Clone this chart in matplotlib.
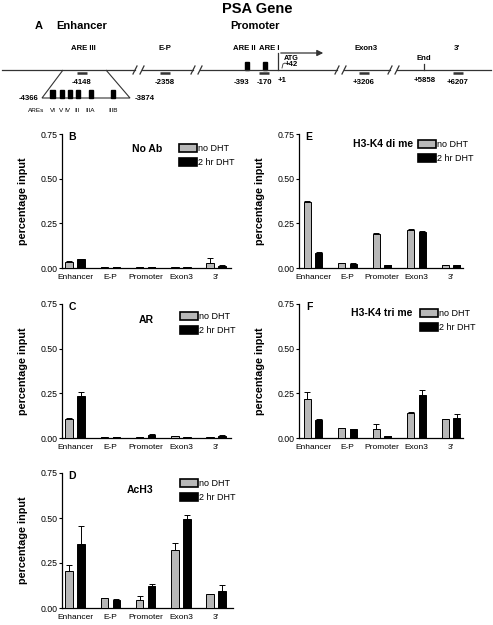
import matplotlib
matplotlib.use("Agg")
import matplotlib.pyplot as plt
from matplotlib.patches import Patch, Polygon, Rectangle
import numpy as np

plt.rcParams['font.family'] = ['Liberation Sans', 'DejaVu Sans']

W, H = 493, 625

# ---------------- data ----------------
regions = ["Enhancer", "E-P", "Promoter", "Exon3", "3'"]
series = ["no DHT", "2 hr DHT"]

noab_ctrl = [0.036, 0.003, 0.003, 0.003, 0.030]
noab_ctrl_err = [0.003, 0.0, 0.0, 0.0, 0.024]
noab_dht = [0.050, 0.003, 0.003, 0.005, 0.013]
noab_dht_err = [0.002, 0.0, 0.0, 0.0, 0.002]

ar_ctrl = [0.104, 0.003, 0.008, 0.009, 0.005]
ar_ctrl_err = [0.008, 0.0, 0.0, 0.0, 0.0]
ar_dht = [0.237, 0.003, 0.015, 0.005, 0.013]
ar_dht_err = [0.020, 0.0, 0.005, 0.0, 0.002]

ach3_ctrl = [0.207, 0.056, 0.046, 0.320, 0.080]
ach3_ctrl_err = [0.030, 0.002, 0.020, 0.040, 0.0]
ach3_dht = [0.357, 0.046, 0.120, 0.494, 0.094]
ach3_dht_err = [0.098, 0.005, 0.015, 0.024, 0.033]

di_ctrl = [0.369, 0.026, 0.193, 0.212, 0.015]
di_ctrl_err = [0.005, 0.0, 0.005, 0.005, 0.0]
di_dht = [0.085, 0.024, 0.017, 0.202, 0.015]
di_dht_err = [0.002, 0.002, 0.0, 0.003, 0.0]

tri_ctrl = [0.220, 0.057, 0.053, 0.141, 0.106]
tri_ctrl_err = [0.036, 0.0, 0.026, 0.003, 0.0]
tri_dht = [0.100, 0.053, 0.013, 0.239, 0.111]
tri_dht_err = [0.009, 0.0, 0.0, 0.030, 0.026]

yticks = [0.0, 0.25, 0.5, 0.75]

GRAY = '#b8b8b8'

fig = plt.figure(figsize=(W / 100, H / 100), dpi=100)

# ---------------- gene diagram (pixel coordinates) ----------------
ax0 = fig.add_axes([0, 0, 1, 1])
ax0.set_xlim(0, W)
ax0.set_ylim(H, 0)
ax0.axis('off')

ax0.text(257, 9, "PSA Gene", ha='center', va='center', fontsize=10.5, fontweight='bold')
ax0.text(39, 26, "A", ha='center', va='center', fontsize=8, fontweight='bold')
ax0.text(82, 26, "Enhancer", ha='center', va='center', fontsize=8, fontweight='bold')
ax0.text(255, 26, "Promoter", ha='center', va='center', fontsize=8, fontweight='bold')

ly = 70
breaks = [135, 193, 337, 390]
segs = [2] + [b for x in breaks for b in (x, x + 7)] + [491]
for a, b in zip(segs[::2], segs[1::2]):
    ax0.plot([a, b], [ly, ly], color='#333333', lw=0.9)
for x in breaks:
    for dx in (0, 7):
        ax0.plot([x + dx - 2, x + dx + 2], [ly + 4, ly - 4], color='#333333', lw=0.9)

sites = ["ARE III", "E-P", "ARE II", "ARE I", "Exon3", "3'"]
site_x = [83, 165, 244, 269, 366, 457]
for s, x in zip(sites, site_x):
    ax0.text(x, 48, s, ha='center', va='center', fontsize=5.6, fontweight='bold')

primer_x = [82, 164.5, 264, 364, 458]
for x in primer_x:
    ax0.plot([x - 5, x + 5], [ly + 2.5, ly + 2.5], color='#333333', lw=1.8, solid_capstyle='butt')

coords = ["-4148", "-2358", "-393", "-170", "+1", "+3206", "+5858", "+6207"]
coord_x = [82, 165, 242, 264, 282, 364, 425, 458]
coord_y = [83, 83, 83, 83, 80, 83, 80, 83]
for c, x, y in zip(coords, coord_x, coord_y):
    ax0.text(x, y, c, ha='center', va='center', fontsize=5.6, fontweight='bold')

for x in (247, 265):
    ax0.add_patch(Rectangle((x - 2.2, 62), 4.4, 8, color='black'))

# transcription start arrow
ax0.plot([278, 278], [ly, 53], color='#333333', lw=0.9)
ax0.annotate("", xy=(326, 53), xytext=(278, 53),
             arrowprops=dict(arrowstyle='-|>', color='#333333', lw=0.9, mutation_scale=9))
ax0.text(284, 58, "ATG", ha='left', va='center', fontsize=5.2, fontweight='bold')
ax0.text(285, 64.5, "+42", ha='left', va='center', fontsize=5.6, fontweight='bold')
ax0.plot([282, 283, 285], [68, 64, 63], color='#333333', lw=0.6)

ax0.plot([424, 424], [64, ly], color='#333333', lw=0.9)
ax0.text(424, 59, "End", ha='center', va='center', fontsize=5.6, fontweight='bold')

# enhancer zoom
ax0.add_patch(Polygon([[63, ly], [42, 98], [130, 98], [106, ly]], closed=False,
                      fill=False, edgecolor='#333333', lw=0.8))
are_x = [52.5, 62, 70, 78, 91, 113]
for x in are_x:
    ax0.add_patch(Rectangle((x - 2.2, 90), 4.4, 8, color='black'))
ax0.text(29, 98, "-4366", ha='center', va='center', fontsize=5.6, fontweight='bold')
ax0.text(145, 98, "-3874", ha='center', va='center', fontsize=5.6, fontweight='bold')
are_names = ["AREs", "VI", "V", "IV", "III", "IIIA", "IIIB"]
are_lab_x = [36, 52.5, 61, 67.5, 77, 90, 113]
for n, x in zip(are_names, are_lab_x):
    ax0.text(x, 110, n, ha='center', va='center', fontsize=4.6)


# ---------------- bar panels ----------------
def px_axes(left, right, top, bottom):
    return fig.add_axes([left / W, 1 - bottom / H, (right - left) / W, (bottom - top) / H])


def panel(box, x0, sp, ctrl, ctrl_err, dht, dht_err, letter, title, title_xy, leg_xy):
    left, right, top, bottom = box
    ax = px_axes(left, right, top, bottom)
    x = np.arange(len(regions))
    w = 0.21
    off = 0.17
    ax.bar(x - off, ctrl, w, color=GRAY, edgecolor='black', lw=0.7, zorder=3)
    ax.bar(x + off, dht, w, color='black', edgecolor='black', lw=0.7, zorder=3)
    ax.errorbar(x - off, ctrl, yerr=[np.zeros(len(ctrl)), ctrl_err], fmt='none',
                ecolor='black', elinewidth=0.7, capsize=2, capthick=0.7, zorder=2)
    ax.errorbar(x + off, dht, yerr=[np.zeros(len(dht)), dht_err], fmt='none',
                ecolor='black', elinewidth=0.7, capsize=2, capthick=0.7, zorder=2)
    ax.set_xlim((left - x0) / sp, (right - x0) / sp)
    ax.set_ylim(0, 0.75)
    ax.set_yticks(yticks)
    ax.set_yticklabels(["%.2f" % t for t in yticks], fontsize=6.3)
    ax.set_xticks(x)
    ax.set_xticklabels(regions, fontsize=6)
    ax.tick_params(axis='x', length=0, pad=4.5)
    ax.tick_params(axis='y', length=2.5, width=0.8, pad=1)
    for s in ('top', 'right'):
        ax.spines[s].set_visible(False)
    for s in ('left', 'bottom'):
        ax.spines[s].set_linewidth(0.9)
    ax.patch.set_alpha(0)
    ax.set_ylabel("percentage input", fontsize=7.8, fontweight='bold', labelpad=9)
    ax.text((left + 10) / W, 1 - (top + 3) / H, letter, transform=fig.transFigure,
            ha='center', va='center', fontsize=7.5, fontweight='bold')
    ax.text(title_xy[0] / W, 1 - title_xy[1] / H, title, transform=fig.transFigure,
            ha='center', va='center', fontsize=7.5, fontweight='bold')
    handles = [Patch(facecolor=GRAY, edgecolor='black', lw=1.2),
               Patch(facecolor='black', edgecolor='black', lw=1.2)]
    ax.legend(handles, series, loc='upper left',
              bbox_to_anchor=(leg_xy[0] / W, 1 - leg_xy[1] / H),
              bbox_transform=fig.transFigure, frameon=False, fontsize=6.5,
              handlelength=2.0, handleheight=0.9, handletextpad=0.05,
              labelspacing=0.55, borderpad=0, borderaxespad=0)
    return ax


LB = (62, 231)
RB = (299, 463)
panel((LB[0], LB[1], 134, 268), 75, 35.3, noab_ctrl, noab_ctrl_err, noab_dht, noab_dht_err,
      "B", "No Ab", (147, 149), (179, 144))
panel((LB[0], LB[1], 304, 438), 75, 35.3, ar_ctrl, ar_ctrl_err, ar_dht, ar_dht_err,
      "C", "AR", (146, 320), (180, 312))
panel((LB[0], 233, 473, 608), 75, 35.3, ach3_ctrl, ach3_ctrl_err, ach3_dht, ach3_dht_err,
      "D", "AcH3", (140, 490), (180, 479))
panel((RB[0], RB[1], 134, 268), 313, 34.5, di_ctrl, di_ctrl_err, di_dht, di_dht_err,
      "E", "H3-K4 di me", (383, 144), (418, 140))
panel((RB[0], RB[1], 304, 438), 313, 34.5, tri_ctrl, tri_ctrl_err, tri_dht, tri_dht_err,
      "F", "H3-K4 tri me", (382, 313), (420, 309))

fig.savefig("out.png", dpi=100)
